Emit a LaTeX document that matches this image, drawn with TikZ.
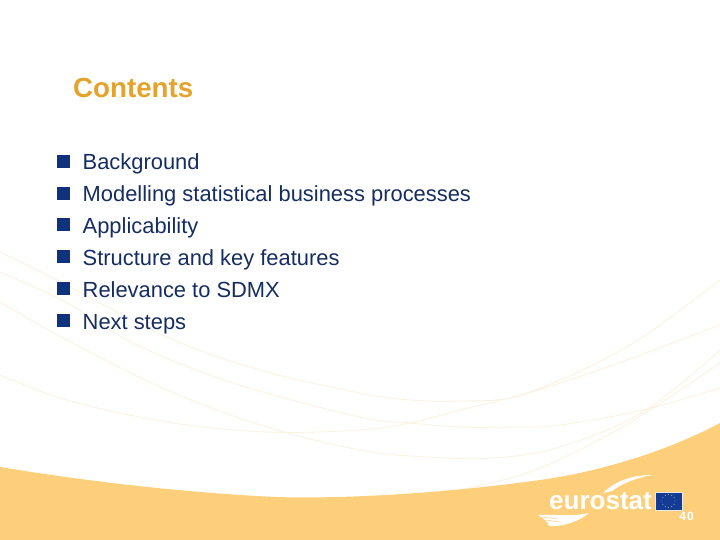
\documentclass[tikz,border=0pt]{standalone}
\usepackage{fontspec}
\setmainfont{Liberation Sans}
\definecolor{bandc}{RGB}{253,207,122}
\definecolor{titlec}{RGB}{228,163,44}
\definecolor{textc}{RGB}{22,45,98}
\definecolor{bulletc}{RGB}{15,50,125}
\definecolor{swoosh}{RGB}{251,241,222}
\definecolor{flagc}{RGB}{18,60,150}
\definecolor{flagedge}{RGB}{235,232,225}
\definecolor{starc}{RGB}{240,225,120}
\tikzset{
  itemtext/.style={anchor=base west,inner sep=0pt,text=textc,font=\fontsize{21.9}{24}\selectfont},
  bulletbox/.style={fill=bulletc,draw=none,minimum size=13pt,inner sep=0pt},
  wave/.style={draw=swoosh,line width=0.8pt}
}
\begin{document}
\begin{tikzpicture}[x=1pt,y=-1pt]
\useasboundingbox (0,0) rectangle (720,540);
\fill[white] (0,0) rectangle (720,540);
% background lines
\draw[wave] plot[smooth,tension=0.6] coordinates {(0,252) (57,280) (167,337) (260,370) (360,393) (410,400) (460,401) (510,398) (560,380) (603,360) (653,330) (720,280)};
\draw[wave] plot[smooth,tension=0.6] coordinates {(0,272) (67,303) (133,343) (233,383) (360,417) (410,423) (460,427) (510,427) (560,425) (643,410) (720,388)};
\draw[wave] plot[smooth,tension=0.6] coordinates {(0,302) (67,340) (167,390) (267,427) (360,450) (427,457) (493,458) (560,447) (643,412) (720,350)};
\draw[wave] plot[smooth,tension=0.6] coordinates {(0,375) (67,400) (167,422) (267,432) (360,430) (410,423) (460,410) (510,398) (560,383) (627,360) (720,325)};
\draw[wave] plot[smooth,tension=0.6] coordinates {(455,491) (527,473) (593,443) (647,412) (720,363)};
% band
\fill[bandc] (0,467) .. controls (90,482) and (190,493) .. (276,497) .. controls (340,499) and (440,494) .. (540,480) .. controls (600,472) and (670,450) .. (720,423) -- (720,540) -- (0,540) -- cycle;
% logo
\node[anchor=base west,inner sep=0pt,text=white,font=\bfseries\fontsize{26}{28}\selectfont] (logo) at (549,509.5) {eurostat};
\fill[white] (603,493) .. controls (615,481) and (632,475) .. (652,475) .. controls (640,477) and (622,483) .. (612,491) -- cycle;
\fill[white] (538,515) .. controls (552,514) and (572,517) .. (589,513) .. controls (578,522) and (562,527) .. (549,526) .. controls (548,522) and (544,519) .. (538,515) -- cycle;
\draw[bandc,line width=0.5pt] (541,517) -- (558,519) (545,520) -- (560,522);
\node[fill=flagc,draw=flagedge,line width=1pt,minimum width=27pt,minimum height=18pt,inner sep=0pt] (flag) at (668.5,501) {};
\foreach \a in {0,30,...,330} \fill[starc] (668.5,501) ++(\a:6.5pt) circle (0.45pt);
\node[anchor=base,inner sep=0pt,text=white,font=\bfseries\fontsize{12}{14}\selectfont] (pagenum) at (686.5,520.5) {4\kern1pt 0};
% title
\node[anchor=base west,inner sep=0pt,text=titlec,font=\bfseries\fontsize{27.7}{30}\selectfont] (title) at (73,98) {Contents};
% bullets
\node[bulletbox] (b1) at (63.5,161.5) {};
\node[bulletbox] (b2) at (63.5,193.5) {};
\node[bulletbox] (b3) at (63.5,225) {};
\node[bulletbox] (b4) at (63.5,256.5) {};
\node[bulletbox] (b5) at (63.5,288.5) {};
\node[bulletbox] (b6) at (63.5,320.5) {};
\node[itemtext] (t1) at (82.5,170) {Background};
\node[itemtext] (t2) at (82.5,202) {Modelling statistical business processes};
\node[itemtext] (t3) at (82.5,233.5) {Applicability};
\node[itemtext] (t4) at (82.5,265) {Structure and key features};
\node[itemtext] (t5) at (82.5,297) {Relevance to SDMX};
\node[itemtext] (t6) at (82.5,329) {Next steps};
\end{tikzpicture}
\end{document}
